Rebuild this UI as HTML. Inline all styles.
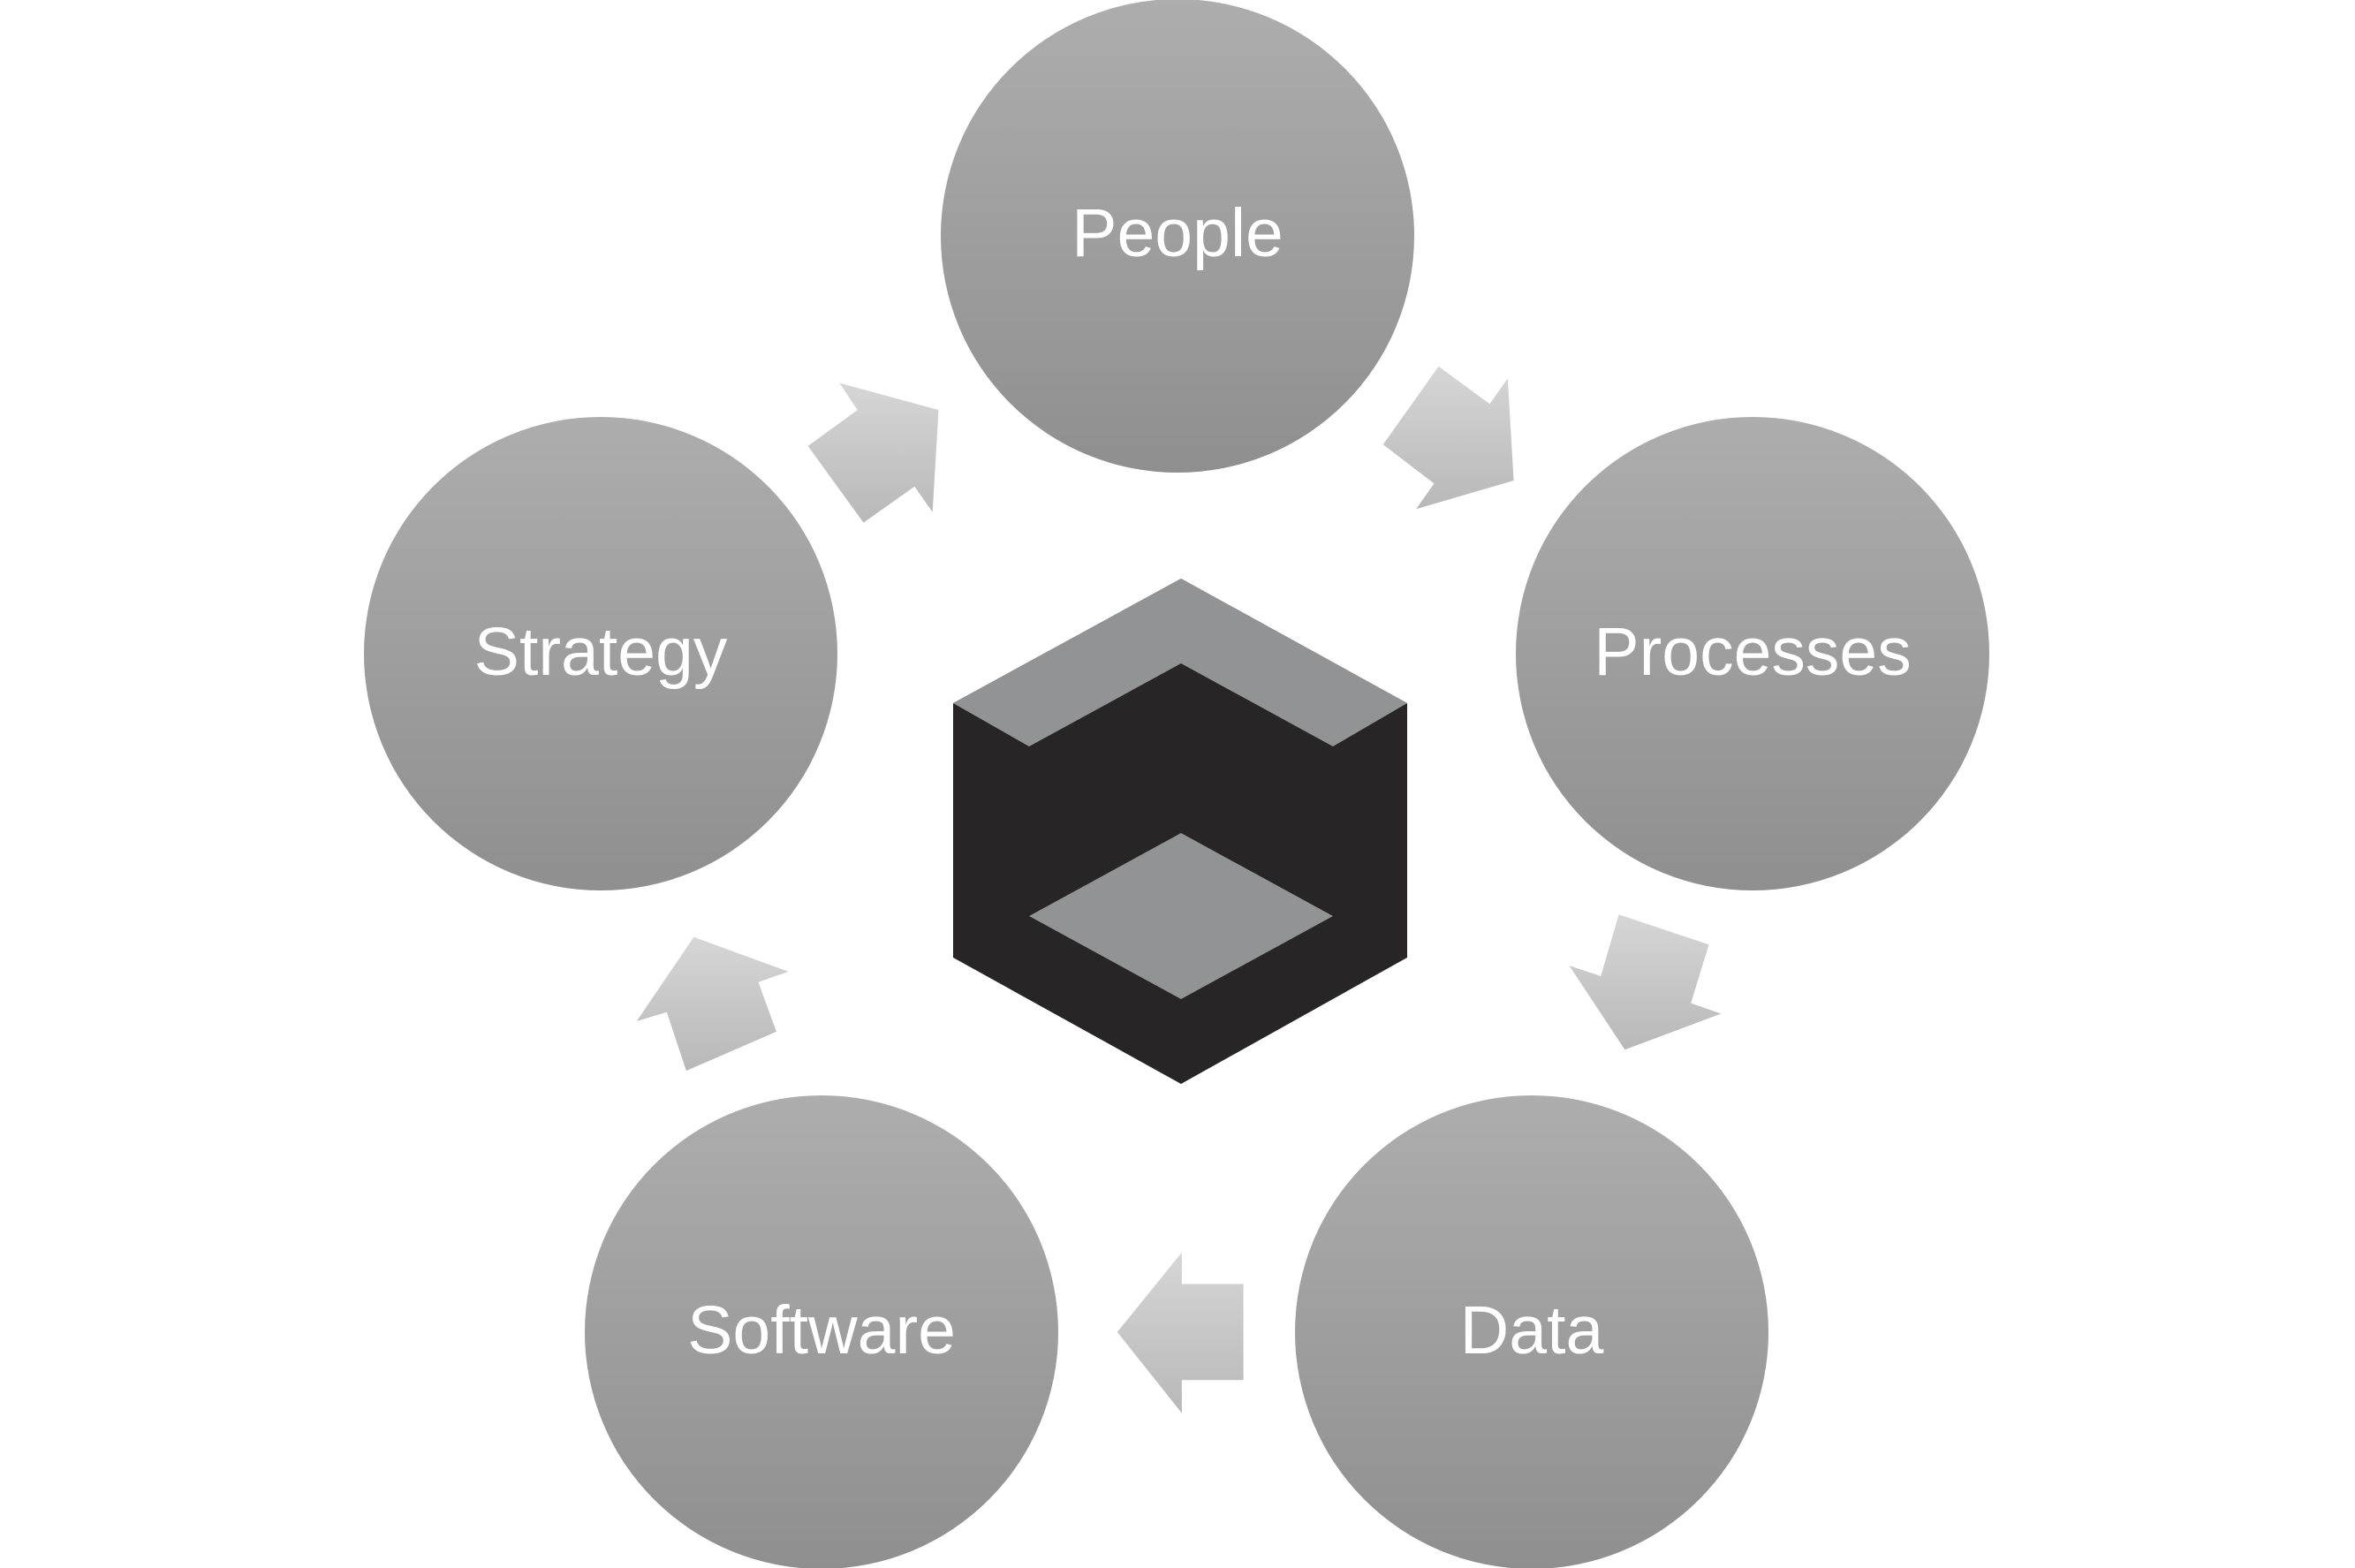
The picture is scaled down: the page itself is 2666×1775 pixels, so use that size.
<!DOCTYPE html>
<html><head><style>
html,body{margin:0;padding:0;background:#fff;}
svg{display:block;}
text{font-family:"Liberation Sans",sans-serif;fill:#fff;font-size:77px;text-anchor:middle;dominant-baseline:central;}
</style></head><body>
<svg width="2666" height="1775" viewBox="0 0 2666 1775" xmlns="http://www.w3.org/2000/svg">
<defs>
<linearGradient id="c" x1="0" y1="0" x2="0" y2="1"><stop offset="0" stop-color="#adadad"/><stop offset="1" stop-color="#8f8f8f"/></linearGradient>
<linearGradient id="a" x1="0" y1="0" x2="0" y2="1"><stop offset="0" stop-color="#d6d6d6"/><stop offset="1" stop-color="#b8b8b8"/></linearGradient>
</defs>
<g transform="scale(1.7)">
<polygon fill="url(#a)" points="538,297 571,273 559,255 625,273 621,341 609,324 575,348"/>
<polygon fill="url(#a)" points="921,296 958,244 992,269 1004,252 1008,320 943,339 955,322"/>
<polygon fill="url(#a)" points="1078,609 1138,629 1126,668 1146,675 1082,699 1045,643 1066,650"/>
<polygon fill="url(#a)" points="828,855 787,855 787,834 744,887 787,941 787,919 828,919"/>
<polygon fill="url(#a)" points="517,687 457,713 444,674 424,680 462,624 525,647 505,654"/>
</g>
<circle cx="1333" cy="267" r="268" fill="url(#c)"/>
<circle cx="1984" cy="740" r="268" fill="url(#c)"/>
<circle cx="680" cy="740" r="268" fill="url(#c)"/>
<circle cx="1734" cy="1508" r="268" fill="url(#c)"/>
<circle cx="930" cy="1508" r="268" fill="url(#c)"/>
<text x="1333" y="264">People</text>
<text x="1984" y="738">Processes</text>
<text x="680" y="738">Strategy</text>
<text x="1734" y="1506">Data</text>
<text x="930" y="1506">Software</text>
<polygon fill="#282526" points="1337,655 1593,796 1593,1084 1337,1227 1079,1084 1079,796"/>
<polygon fill="#929395" points="1337,655 1593,796 1509,845 1337,751 1165,845 1079,796"/>
<polygon fill="#929395" points="1337,943 1509,1037 1337,1131 1165,1037"/>
</svg>
</body></html>
